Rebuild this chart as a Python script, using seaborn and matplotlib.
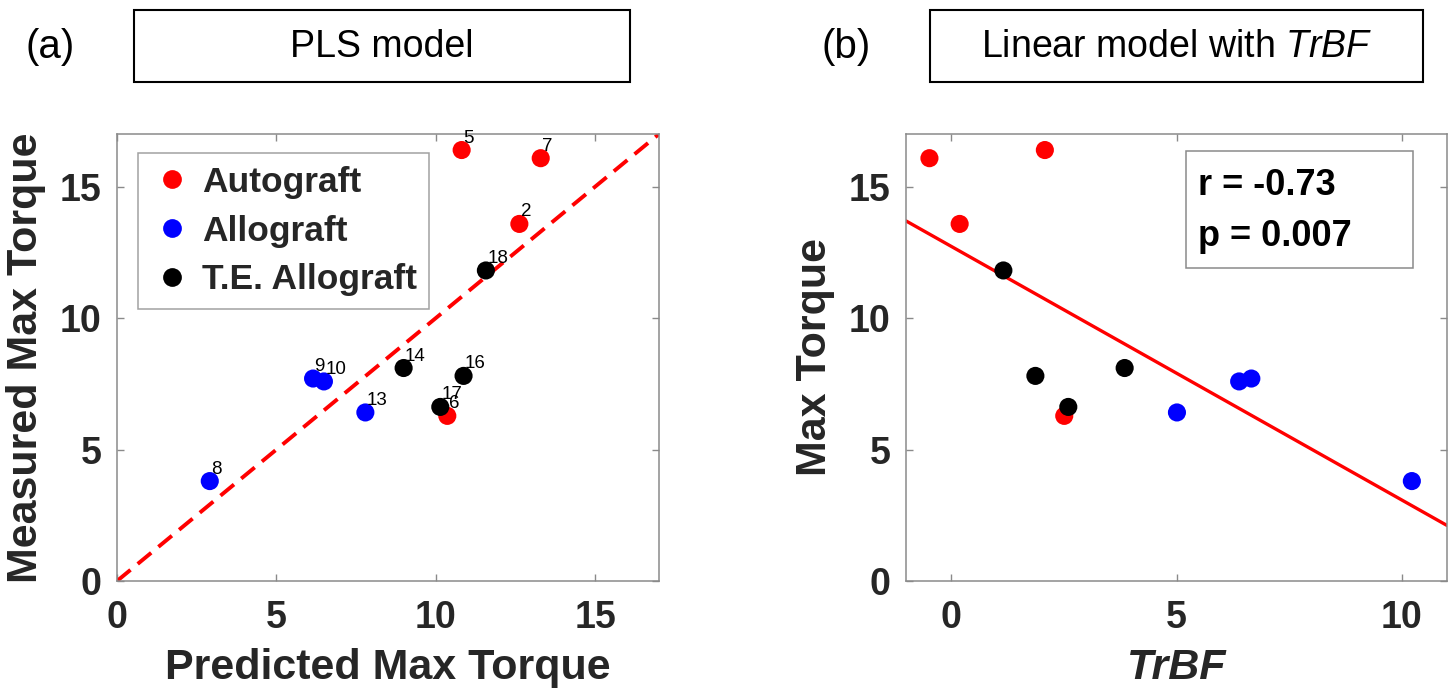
import matplotlib

matplotlib.use("Agg")
import matplotlib.pyplot as plt
import matplotlib.patches as mpatches
import numpy as np
import pandas as pd
import seaborn as sns

# valores (orden por id de muestra)
sample_ids = [2, 5, 6, 7, 8, 9, 10, 13, 14, 16, 17, 18]
groups = ["Autograft"] * 4 + ["Allograft"] * 4 + ["T.E. Allograft"] * 4
predicted = [12.62, 10.81, 10.36, 13.29, 2.91, 6.15, 6.49, 7.79, 8.99, 10.87, 10.14, 11.57]
measured = [13.58, 16.39, 6.28, 16.08, 3.80, 7.70, 7.59, 6.41, 8.10, 7.80, 6.62, 11.81]
trbf = [0.19, 2.08, 2.51, -0.48, 10.22, 6.66, 6.39, 5.01, 3.85, 1.87, 2.60, 1.16]

group_order = ["Autograft", "Allograft", "T.E. Allograft"]
palette = {"Autograft": "#ff0000", "Allograft": "#0000ff", "T.E. Allograft": "#000000"}
stats_lines = ["r = -0.73", "p = 0.007"]

df = pd.DataFrame({
    "id": sample_ids,
    "group": groups,
    "predicted": predicted,
    "measured": measured,
    "trbf": trbf,
})

sns.set_theme(style="white")
plt.rcParams["font.family"] = ["Liberation Sans", "DejaVu Sans"]
plt.rcParams["mathtext.fontset"] = "custom"
plt.rcParams["mathtext.rm"] = "Liberation Sans"
plt.rcParams["mathtext.it"] = "Liberation Sans:italic"

SPINE = "#8a8a8a"
TXT = "#262626"
W, H = 1453, 698

fig = plt.figure(figsize=(W / 100, H / 100), dpi=100)
ax_a = fig.add_axes([117 / W, 117 / H, 542 / W, 447 / H])
ax_b = fig.add_axes([906 / W, 117 / H, 541 / W, 447 / H])


def style_axes(ax):
    for sp in ax.spines.values():
        sp.set_color(SPINE)
        sp.set_linewidth(1.1)
        sp.set_visible(True)
    ax.tick_params(direction="in", length=5, width=1.0, color=SPINE,
                   top=True, right=True, bottom=True, left=True,
                   labelsize=27, labelcolor=TXT)
    ax.tick_params(axis="x", pad=14)
    ax.tick_params(axis="y", pad=11)
    for lab in ax.get_xticklabels() + ax.get_yticklabels():
        lab.set_fontweight("bold")


# --- (a) PLS ---
ax_a.set_xlim(0, 17)
ax_a.set_ylim(0, 17)
ax_a.plot([0, 17], [0, 17], color="#ff0000", lw=2.8, ls=(0, (4.5, 2.4)), zorder=1)
sns.scatterplot(data=df, x="predicted", y="measured", hue="group", hue_order=group_order,
                palette=palette, s=170, linewidth=0, ax=ax_a, zorder=3)
for _, r in df.iterrows():
    ax_a.annotate(str(r["id"]), (r["predicted"], r["measured"]), xytext=(1, 2.5),
                  textcoords="offset points", fontsize=13.5, ha="left", va="bottom",
                  color="black", zorder=4)
ax_a.set_xticks([0, 5, 10, 15])
ax_a.set_yticks([0, 5, 10, 15])
ax_a.set_xlabel("Predicted Max Torque", fontsize=31, fontweight="bold", color=TXT, labelpad=8)
ax_a.set_ylabel("Measured Max Torque", fontsize=31, fontweight="bold", color=TXT, labelpad=10)
style_axes(ax_a)
handles, labels = ax_a.get_legend_handles_labels()
for h in handles:
    h.set_markersize(13.5)
leg = ax_a.legend(handles, labels, loc="upper left", bbox_to_anchor=(0.039, 0.957),
                  borderaxespad=0, frameon=True, fancybox=False, edgecolor=SPINE,
                  prop={"size": 25.5, "weight": "bold"}, handletextpad=0.25,
                  labelspacing=0.45, borderpad=0.35, handlelength=1.2)
leg.get_frame().set_linewidth(1.1)

# --- (b) regresión lineal con TrBF ---
ax_b.set_xlim(-1, 11)
ax_b.set_ylim(0, 17)
sns.regplot(data=df, x="trbf", y="measured", scatter=False, ci=None, truncate=False,
            color="#ff0000", line_kws={"lw": 2.4, "zorder": 1}, ax=ax_b)
sns.scatterplot(data=df, x="trbf", y="measured", hue="group", hue_order=group_order,
                palette=palette, s=170, linewidth=0, ax=ax_b, legend=False, zorder=3)
ax_b.set_xlim(-1, 11)
ax_b.set_ylim(0, 17)
ax_b.set_xticks([0, 5, 10])
ax_b.set_yticks([0, 5, 10, 15])
ax_b.set_xlabel("TrBF", fontsize=31, fontweight="bold", fontstyle="italic", color=TXT, labelpad=8)
ax_b.set_ylabel("Max Torque", fontsize=31, fontweight="bold", color=TXT, labelpad=10)
style_axes(ax_b)
ax_b.add_patch(mpatches.Rectangle((0.518, 0.70), 0.42, 0.262, transform=ax_b.transAxes,
                                  fill=False, edgecolor=SPINE, lw=1.1, zorder=5))
ax_b.text(0.54, 0.885, stats_lines[0], transform=ax_b.transAxes, fontsize=26,
          fontweight="bold", va="center", ha="left", color="black")
ax_b.text(0.54, 0.770, stats_lines[1], transform=ax_b.transAxes, fontsize=26,
          fontweight="bold", va="center", ha="left", color="black")

# --- cajas de título ---
for x0, x1, panel, title in [(134, 630, "(a)", "PLS model"),
                             (930, 1423, "(b)", "Linear model with $\\mathit{TrBF}$")]:
    fig.add_artist(mpatches.Rectangle((x0 / W, (H - 82) / H), (x1 - x0) / W, 72 / H,
                                      transform=fig.transFigure, fill=False,
                                      edgecolor="black", lw=1.5))
    fig.text((x0 + x1) / 2 / W, (H - 47) / H, title, fontsize=27, ha="center", va="center",
             color="black")
    fig.text((x0 - 84) / W, (H - 47) / H, panel, fontsize=29, ha="center", va="center",
             color="black")

fig.savefig("out.png", dpi=100)
